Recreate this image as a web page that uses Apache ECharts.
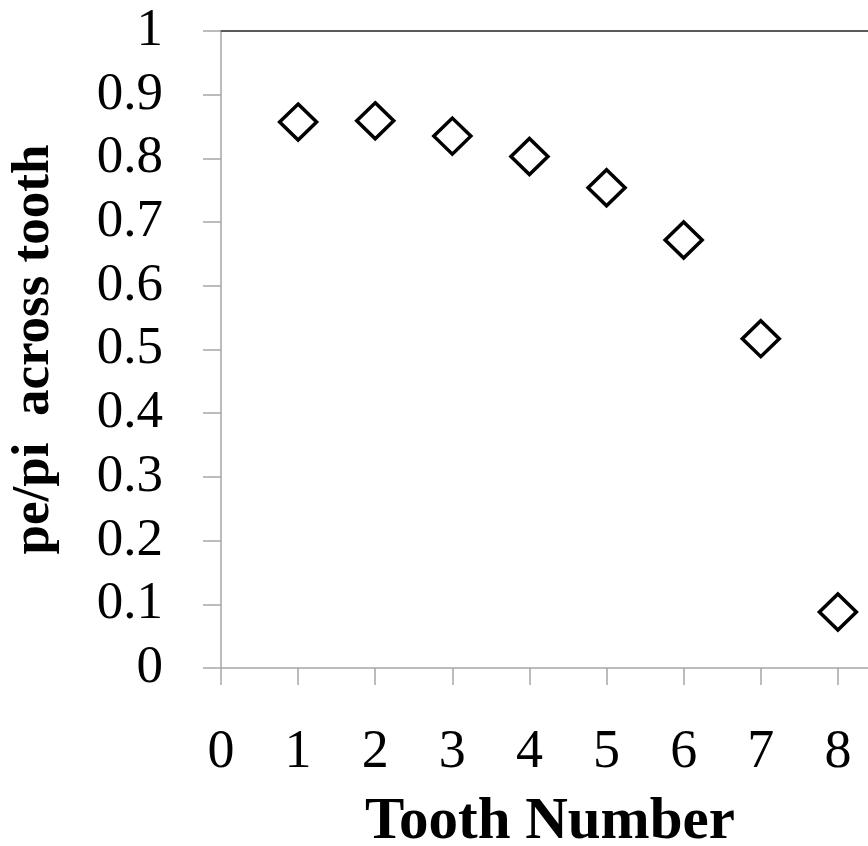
<!DOCTYPE html>
<html>
<head>
<meta charset="utf-8">
<script src="https://cdn.jsdelivr.net/npm/echarts@6/dist/echarts.min.js"></script>
<style>
  html, body { margin: 0; padding: 0; background: #ffffff; }
  #chart { width: 868px; height: 846px; }
</style>
</head>
<body>
<div id="chart"></div>
<script>
// Pressure ratio across each tooth of the seal
const toothNumbers = [1, 2, 3, 4, 5, 6, 7, 8];
const pressureRatio = [0.857, 0.859, 0.835, 0.803, 0.754, 0.672, 0.517, 0.088];

const xTickLabels = ['0', '1', '2', '3', '4', '5', '6', '7', '8'];
const yTickLabels = ['0', '0.1', '0.2', '0.3', '0.4', '0.5', '0.6', '0.7', '0.8', '0.9', '1'];

const serif = '"Liberation Serif", "Times New Roman", serif';
const axisGray = '#a6a6a6';

const chart = echarts.init(document.getElementById('chart'), null, { renderer: 'canvas' });

chart.setOption({
  animation: false,
  backgroundColor: '#ffffff',
  // the plot runs on past the right edge of the page (up to tooth 9)
  grid: {
    left: 221, top: 31, height: 637, width: 694,
    containLabel: false, outerBoundsMode: 'none'
  },
  xAxis: [
    {
      type: 'value',
      min: 0,
      max: 9,
      interval: 1,
      position: 'bottom',
      name: 'Tooth Number',
      nameLocation: 'middle',
      nameGap: 155,
      nameTextStyle: {
        fontFamily: serif, fontSize: 59, fontWeight: 'bold', color: '#000',
        verticalAlign: 'middle', padding: [0, 36, 0, 0]
      },
      axisLine: { show: true, onZero: false, lineStyle: { color: axisGray, width: 1.5 } },
      axisTick: { show: true, length: 17, lineStyle: { color: axisGray, width: 1.5 } },
      axisLabel: {
        margin: 58,
        fontFamily: serif, fontSize: 54, color: '#000',
        formatter: (v) => { const i = Math.round(v); return xTickLabels[i] !== undefined ? xTickLabels[i] : ''; }
      },
      splitLine: { show: false }
    },
    {
      type: 'value',
      min: 0,
      max: 9,
      position: 'top',
      axisLine: { show: true, onZero: false, lineStyle: { color: '#595959', width: 2 } },
      axisTick: { show: false },
      axisLabel: { show: false },
      splitLine: { show: false }
    }
  ],
  yAxis: {
    type: 'value',
    min: 0,
    max: 1,
    interval: 0.1,
    name: 'pe/pi  across tooth',
    nameLocation: 'middle',
    nameRotate: 90,
    nameGap: 187,
    nameTextStyle: {
      fontFamily: serif, fontSize: 53, fontWeight: 'bold', color: '#000',
      verticalAlign: 'middle'
    },
    axisLine: { show: true, onZero: false, lineStyle: { color: axisGray, width: 1.5 } },
    axisTick: { show: true, length: 18, lineStyle: { color: axisGray, width: 1.5 } },
    axisLabel: {
      margin: 58,
      fontFamily: serif, fontSize: 53, color: '#000',
      formatter: (v) => yTickLabels[Math.round(v * 10)]
    },
    splitLine: { show: false }
  },
  series: [
    {
      type: 'scatter',
      xAxisIndex: 0,
      data: toothNumbers.map((t, i) => [t, pressureRatio[i]]),
      symbol: 'diamond',
      symbolSize: [37, 36],
      itemStyle: { color: '#ffffff', borderColor: '#000000', borderWidth: 3.5, opacity: 1 }
    }
  ]
});
</script>
</body>
</html>
